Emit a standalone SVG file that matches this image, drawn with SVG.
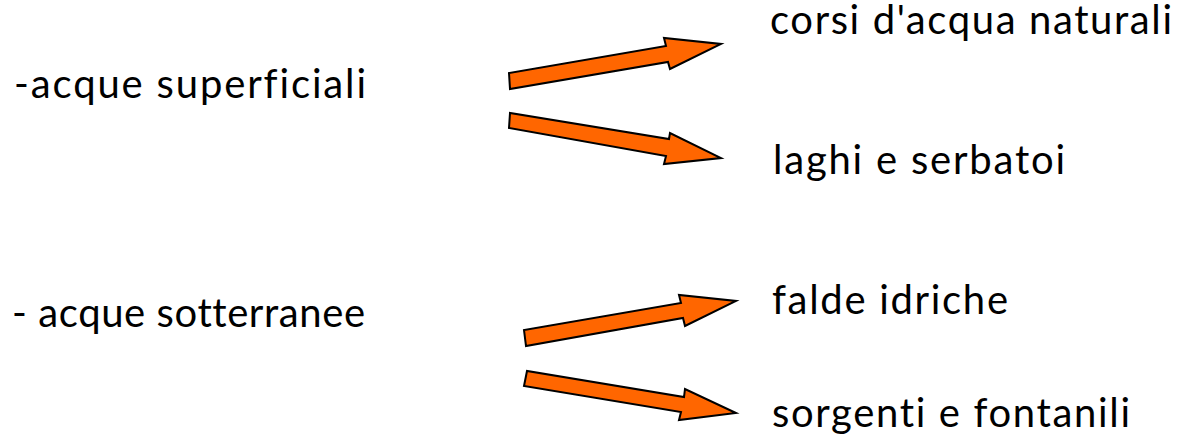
<svg xmlns="http://www.w3.org/2000/svg" width="1191" height="446" viewBox="0 0 1191 446">
<style>
.t{font-family:Lato,"Open Sans","Liberation Sans",sans-serif;font-size:40px;fill:#000;font-variant-ligatures:none}
.a{fill:#ff6600;stroke:#000;stroke-width:2;stroke-linejoin:miter}
</style>
<rect width="1191" height="446" fill="#fff"/>
<g id="n-superficiali"><text class="t" x="14" y="98" textLength="352">-acque superficiali</text></g>
<g id="n-corsi"><text class="t" x="770" y="34" textLength="402">corsi d'acqua naturali</text></g>
<g id="n-laghi"><text class="t" x="773" y="174" textLength="292">laghi e serbatoi</text></g>
<g id="n-sotterranee"><text class="t" x="12" y="327" textLength="353">- acque sotterranee</text></g>
<g id="n-falde"><text class="t" x="772" y="314" textLength="236">falde idriche</text></g>
<g id="n-sorgenti"><text class="t" x="772" y="427" textLength="358">sorgenti e fontanili</text></g>
<g id="connectors">
<polygon class="a" points="510,89 509,73 666,46 664,38 721,44 670,69 668,62"/>
<polygon class="a" points="510,113 509,128 666,156 664,164 721,158 670,133 669,139"/>
<polygon class="a" points="526,346 524,330 681,303 679,295 736,301 685,326 683,318"/>
<polygon class="a" points="527,371 524,386 681,412 679,420 736,413 685,389 684,397"/>
</g>
</svg>
